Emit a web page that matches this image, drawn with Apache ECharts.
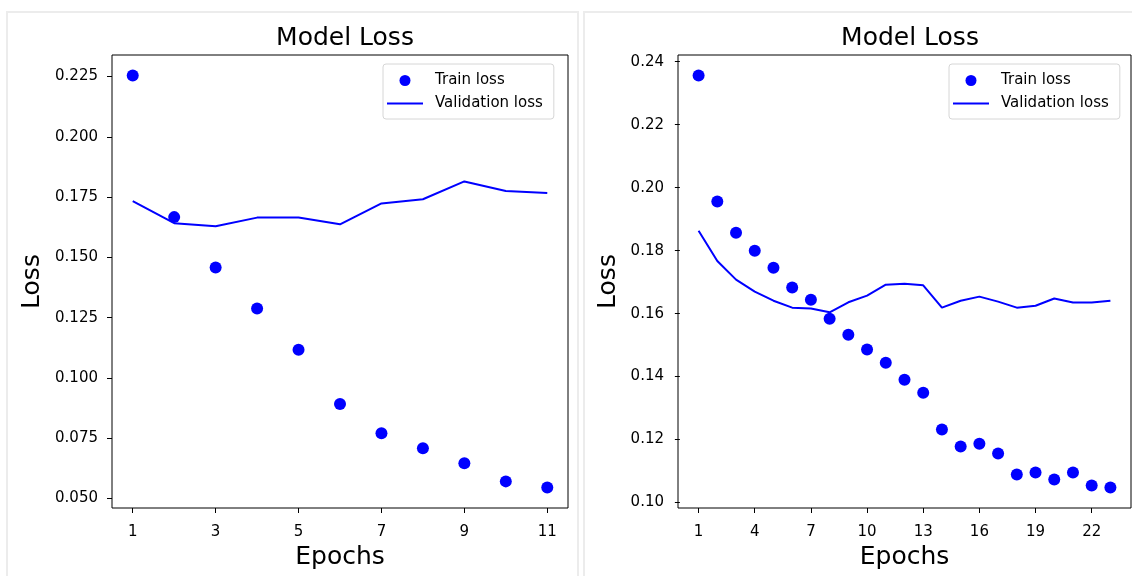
<!DOCTYPE html>
<html>
<head>
<meta charset="utf-8">
<script src="https://cdn.jsdelivr.net/npm/echarts@6/dist/echarts.min.js"></script>
<style>
	html, body { margin: 0; padding: 0; background: #fff; }
	#main { width: 1132px; height: 576px; }
</style>
</head>
<body>
<div id="main"></div>
<script>
// left run: 11 epochs
var epochsA = [1, 2, 3, 4, 5, 6, 7, 8, 9, 10, 11];
var trainA = [0.2254, 0.1667, 0.1458, 0.1288, 0.1117, 0.0892, 0.0771, 0.0708, 0.0646, 0.0571, 0.0546];
var valA = [0.1733, 0.1642, 0.1629, 0.1665, 0.1665, 0.1637, 0.1724, 0.1741, 0.1815, 0.1775, 0.1767];
var xTicksA = [1, 3, 5, 7, 9, 11];
var yTicksA = [0.05, 0.075, 0.1, 0.125, 0.15, 0.175, 0.2, 0.225];

// right run: 23 epochs
var epochsB = [1, 2, 3, 4, 5, 6, 7, 8, 9, 10, 11, 12, 13, 14, 15, 16, 17, 18, 19, 20, 21, 22, 23];
var trainB = [0.2356, 0.1956, 0.1857, 0.1800, 0.1746, 0.1683, 0.1644, 0.1584, 0.1533, 0.1486, 0.1444, 0.1390,
	0.1349, 0.1232, 0.1178, 0.1187, 0.1156, 0.1089, 0.1095, 0.1073, 0.1095, 0.1054, 0.1048];
var valB = [0.1863, 0.1767, 0.1708, 0.1670, 0.1641, 0.1619, 0.1616, 0.1604, 0.1636, 0.1657, 0.1692, 0.1695,
	0.1690, 0.1619, 0.1641, 0.1654, 0.1638, 0.1619, 0.1625, 0.1648, 0.1635, 0.1635, 0.1641];
var xTicksB = [1, 4, 7, 10, 13, 16, 19, 22];
var yTicksB = [0.10, 0.12, 0.14, 0.16, 0.18, 0.20, 0.22, 0.24];

var FONT = 'DejaVu Sans';
var BLUE = '#0000ff';

// matplotlib style 5% margins
function limits(arr) {
	var lo = Math.min.apply(null, arr), hi = Math.max.apply(null, arr);
	var m = (hi - lo) * 0.05;
	return [lo - m, hi + m];
}

function pairs(xs, ys) {
	return xs.map(function(x, i) { return [x, ys[i]]; });
}

function xAxisCfg(idx, lim, ticks) {
	return {
		type: 'value', gridIndex: idx, min: lim[0], max: lim[1],
		name: 'Epochs', nameLocation: 'middle', nameGap: 35,
		nameTextStyle: { fontFamily: FONT, fontSize: 25, color: '#000' },
		axisLine: { show: false },
		splitLine: { show: false },
		axisTick: { show: true, length: 5, customValues: ticks, lineStyle: { color: '#000' } },
		axisLabel: { customValues: ticks, margin: 17, fontFamily: FONT, fontSize: 15, color: '#000' }
	};
}

function yAxisCfg(idx, lim, ticks, digits, gap) {
	return {
		type: 'value', gridIndex: idx, min: lim[0], max: lim[1],
		name: 'Loss', nameLocation: 'middle', nameGap: gap,
		nameTextStyle: { fontFamily: FONT, fontSize: 25, color: '#000' },
		axisLine: { show: false },
		splitLine: { show: false },
		axisTick: { show: true, length: 5, customValues: ticks, lineStyle: { color: '#000' } },
		axisLabel: {
			customValues: ticks, margin: 14, fontFamily: FONT, fontSize: 15, color: '#000',
			formatter: function(v) { return v.toFixed(digits); }
		}
	};
}

function legendCfg(left) {
	return {
		left: left, top: 64, orient: 'vertical',
		data: [
			{ name: 'Train loss', icon: 'circle' },
			{ name: 'Validation loss', icon: 'path://M0,0 H36 V2 H0 Z' }
		],
		itemWidth: 36, itemHeight: 11, itemGap: 8,
		padding: [9, 11, 8, 4],
		borderColor: '#d6d6d6', borderWidth: 1, borderRadius: 3,
		backgroundColor: 'rgba(255,255,255,0.8)',
		textStyle: { fontFamily: FONT, fontSize: 15, color: '#000', lineHeight: 15, padding: [0, 0, 0, 7] }
	};
}

var limXA = limits(epochsA), limYA = limits(trainA.concat(valA));
var limXB = limits(epochsB), limYB = limits(trainB.concat(valB));

var chart = echarts.init(document.getElementById('main'));

var option = {
	backgroundColor: '#fff',
	animation: false,
	graphic: [
		{ type: 'rect', shape: { x: 7, y: 12, width: 571, height: 575 }, style: { fill: 'none', stroke: '#ececec', lineWidth: 2 }, silent: true },
		{ type: 'rect', shape: { x: 584, y: 12, width: 560, height: 575 }, style: { fill: 'none', stroke: '#ececec', lineWidth: 2 }, silent: true }
	],
	title: [
		{ text: 'Model Loss', left: 340, top: 21, textAlign: 'center',
			textStyle: { fontFamily: FONT, fontSize: 25, fontWeight: 'normal', color: '#000' } },
		{ text: 'Model Loss', left: 905, top: 21, textAlign: 'center',
			textStyle: { fontFamily: FONT, fontSize: 25, fontWeight: 'normal', color: '#000' } }
	],
	legend: [legendCfg(383), legendCfg(949)],
	grid: [
		{ left: 112, top: 55, width: 456, height: 453, show: true, borderColor: '#000', borderWidth: 1, backgroundColor: '#fff' },
		{ left: 678, top: 55, width: 453, height: 453, show: true, borderColor: '#000', borderWidth: 1, backgroundColor: '#fff' }
	],
	xAxis: [xAxisCfg(0, limXA, xTicksA), xAxisCfg(1, limXB, xTicksB)],
	yAxis: [yAxisCfg(0, limYA, yTicksA, 3, 67), yAxisCfg(1, limYB, yTicksB, 2, 57)],
	series: [{
		name: 'Train loss', type: 'scatter', xAxisIndex: 0, yAxisIndex: 0,
		data: pairs(epochsA, trainA), symbolSize: 12,
		itemStyle: { color: BLUE, opacity: 1 }
	}, {
		name: 'Validation loss', type: 'line', xAxisIndex: 0, yAxisIndex: 0,
		data: pairs(epochsA, valA), symbol: 'none',
		lineStyle: { color: BLUE, width: 2 }, itemStyle: { color: BLUE }
	}, {
		name: 'Train loss', type: 'scatter', xAxisIndex: 1, yAxisIndex: 1,
		data: pairs(epochsB, trainB), symbolSize: 12,
		itemStyle: { color: BLUE, opacity: 1 }
	}, {
		name: 'Validation loss', type: 'line', xAxisIndex: 1, yAxisIndex: 1,
		data: pairs(epochsB, valB), symbol: 'none',
		lineStyle: { color: BLUE, width: 2 }, itemStyle: { color: BLUE }
	}]
};

chart.setOption(option);
</script>
</body>
</html>
